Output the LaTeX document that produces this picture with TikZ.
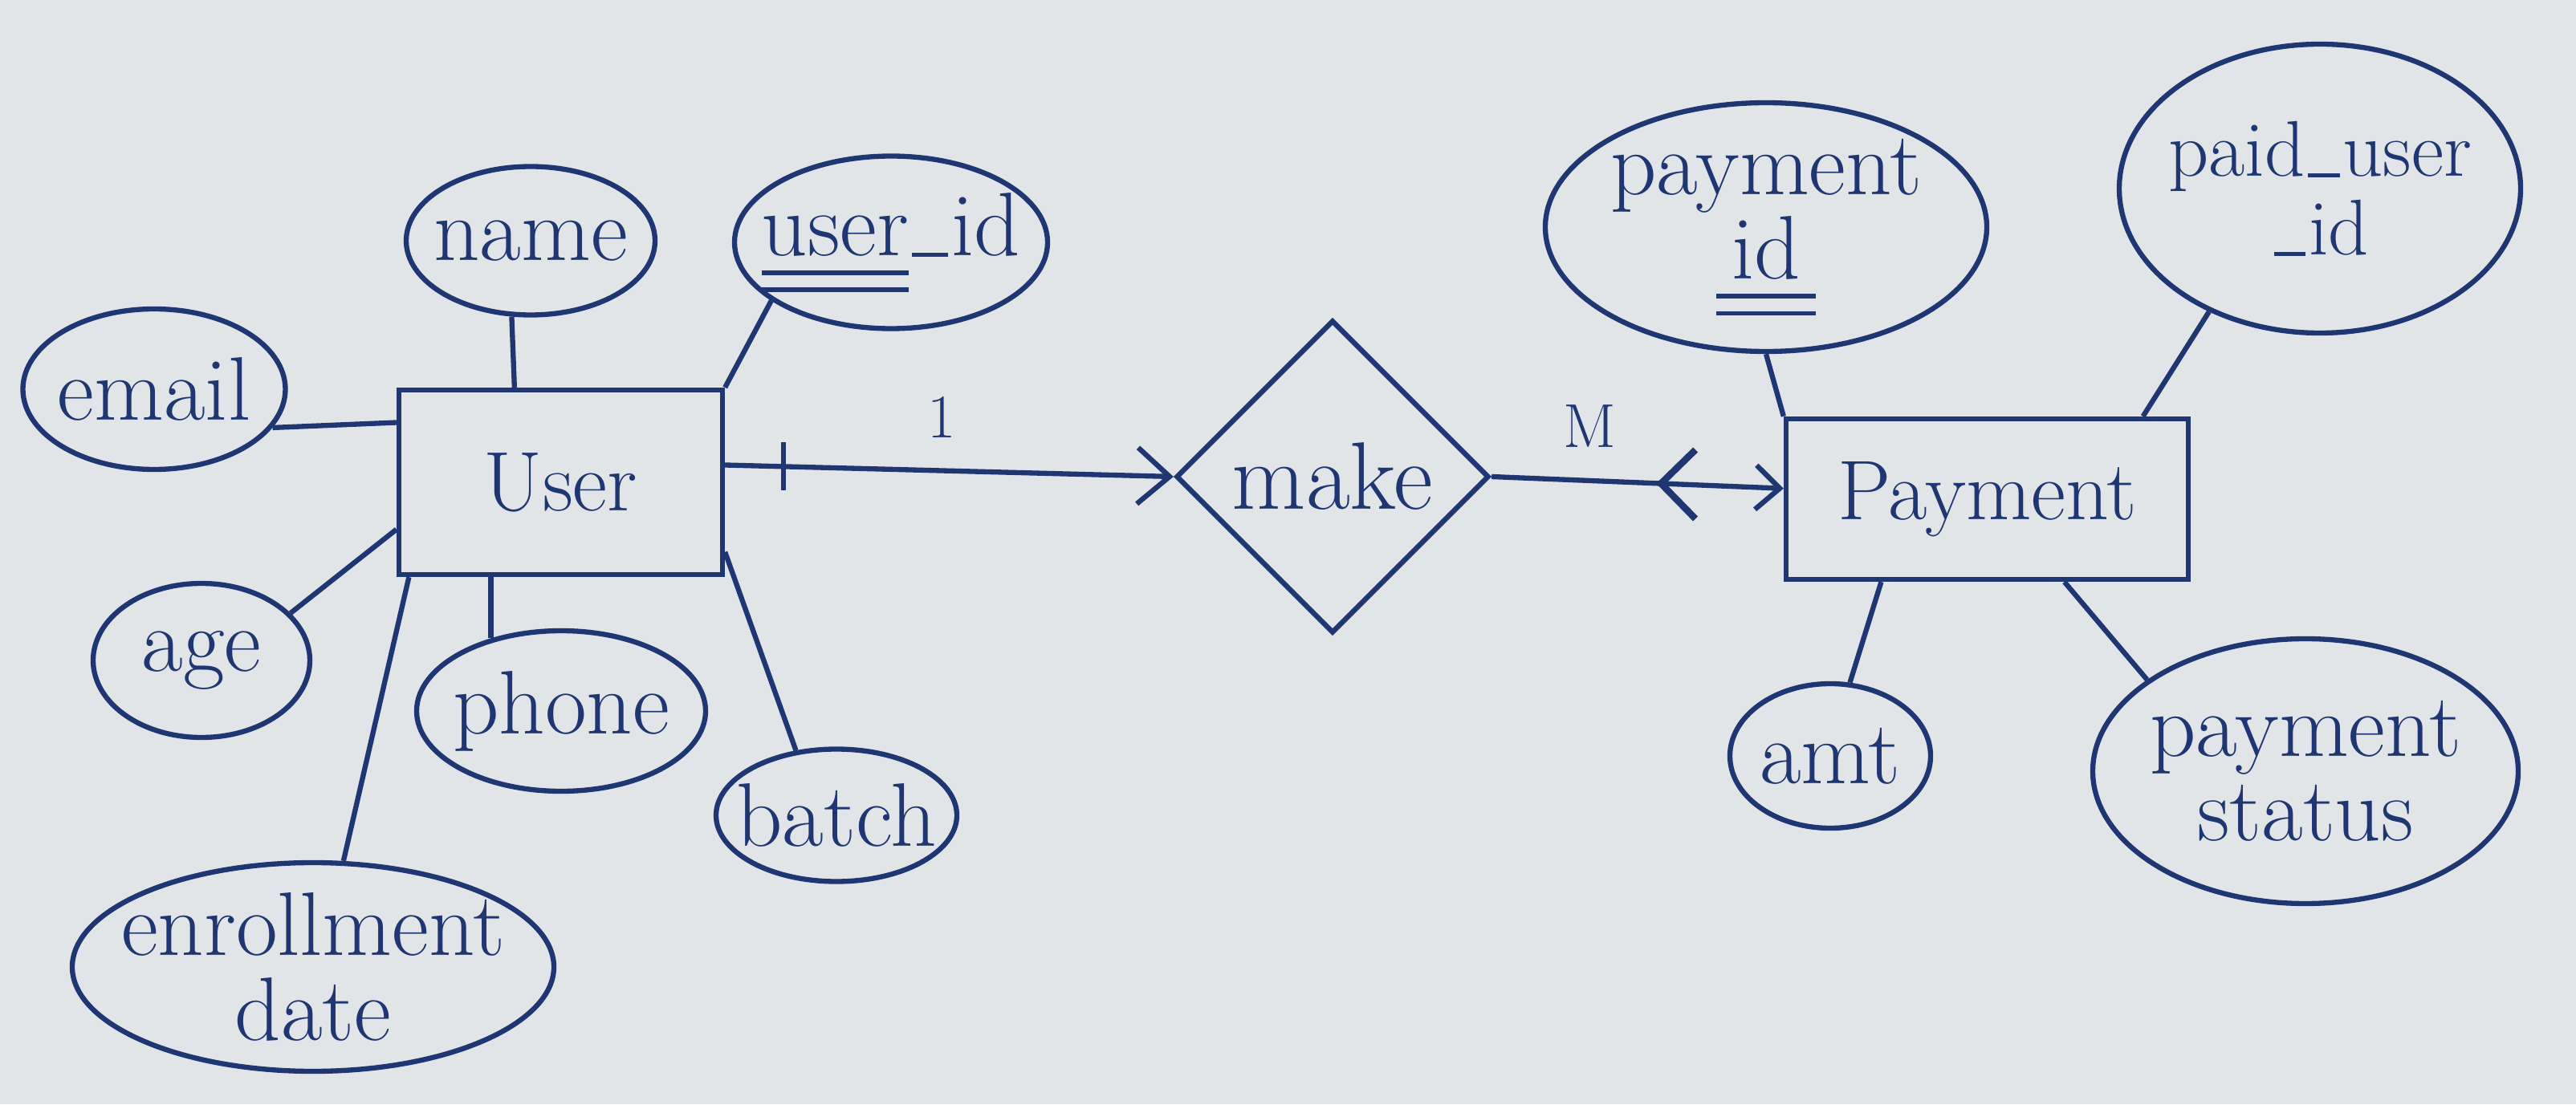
\documentclass[tikz,border=0pt]{standalone}
\usepackage{tikz}
\usetikzlibrary{shapes.geometric,arrows.meta}

\definecolor{ink}{RGB}{30,55,115}
\definecolor{paper}{RGB}{226,229,232}

% double underline for key attributes
\newcommand{\keyul}[1]{\setbox0\hbox{#1}\rlap{\rule[-7pt]{\wd0}{1.6pt}}\rlap{\rule[-13pt]{\wd0}{1.6pt}}\box0}
% short underscore
\newcommand{\usc}{\kern0.04em\rule[-0.5pt]{0.4em}{1.4pt}\kern0.04em}

\tikzset{
  attr/.style={draw, ellipse, inner sep=-0.7cm, align=center,
    font=\fontsize{32}{30}\selectfont},
  entity/.style={draw, rectangle, inner sep=0pt,
    font=\fontsize{30}{34}\selectfont},
  rel/.style={draw, diamond, inner sep=0pt,
    font=\fontsize{34}{36}\selectfont},
  card/.style={font=\fontsize{22}{24}\selectfont},
}

\begin{document}
\begin{tikzpicture}[line width=1.8pt, color=ink]
\fill[paper] (0,0) rectangle (32.09,13.76);
\useasboundingbox (0,0) rectangle (32.09,13.76);

% entities and relationship
\node[entity, minimum width=4.03cm, minimum height=2.3cm] (user) at (6.985,7.75) {User};
\node[entity, minimum width=5.01cm, minimum height=2.0cm] (pay) at (24.755,7.54) {Payment};
\node[rel, minimum width=3.9cm, minimum height=3.9cm] (make) at (16.60,7.82) {make};

% user attributes
\node[attr, minimum width=3.27cm, minimum height=2.0cm] (email) at (1.92,8.91) {email};
\node[attr, minimum width=3.1cm, minimum height=1.85cm] (name) at (6.61,10.76) {name};
\node[attr, minimum width=3.9cm, minimum height=2.15cm] (uid) at (11.10,10.74) {\keyul{user}\usc id};
\node[attr, minimum width=2.7cm, minimum height=1.92cm] (age) at (2.51,5.53) {age};
\node[attr, minimum width=3.6cm, minimum height=2.0cm] (phone) at (6.99,4.90) {phone};
\node[attr, minimum width=3.0cm, minimum height=1.65cm] (batch) at (10.42,3.60) {batch};
\node[attr, minimum width=6.0cm, minimum height=2.6cm] (enrol) at (3.90,1.71) {enrollment\\date};

% payment attributes
\node[attr, minimum width=5.5cm, minimum height=3.1cm] (pid) at (22.00,10.93) {payment\\\keyul{\,id\,}};
\node[attr, minimum width=5.0cm, minimum height=3.6cm, font=\fontsize{28}{28}\selectfont] (puid) at (28.90,11.41) {paid\usc user\\\usc id};
\node[attr, minimum width=2.5cm, minimum height=1.8cm] (amt) at (22.80,4.34) {amt};
\node[attr, minimum width=5.3cm, minimum height=3.3cm] (pstat) at (28.72,4.15) {payment\\status};

% attribute links
\foreach \a/\b in {email.-18/user.160, name.-104/user.116, uid.206/user.north east,
    age.28/user.196, enrol.74/user.212, batch.122/user.-23,
    pid.south/pay.north west, puid.228/pay.28, amt.75/pay.218, pstat.150/pay.-47}
  \draw (\a) -- (\b);
\draw (phone.134) -- (phone.134 |- user.south);

% relationship links
\draw[-{Straight Barb[length=4mm,width=7mm]}] (user.6) -- (make.west) coordinate[pos=0.13] (tick);
\draw ([yshift=3mm]tick) -- ([yshift=-3mm]tick);
\node[card] (one) at (11.73,8.56) {1};

\draw[-{Straight Barb[length=3mm,width=5.5mm]}] (make.east) -- (pay.177) coordinate[pos=0.58] (crow);
\draw[line width=2.4pt] (crow) ++(0.43,0.42) -- (crow) -- ++(0.43,-0.44);
\node[card] (many) at (19.80,8.45) {M};

\end{tikzpicture}
\end{document}
